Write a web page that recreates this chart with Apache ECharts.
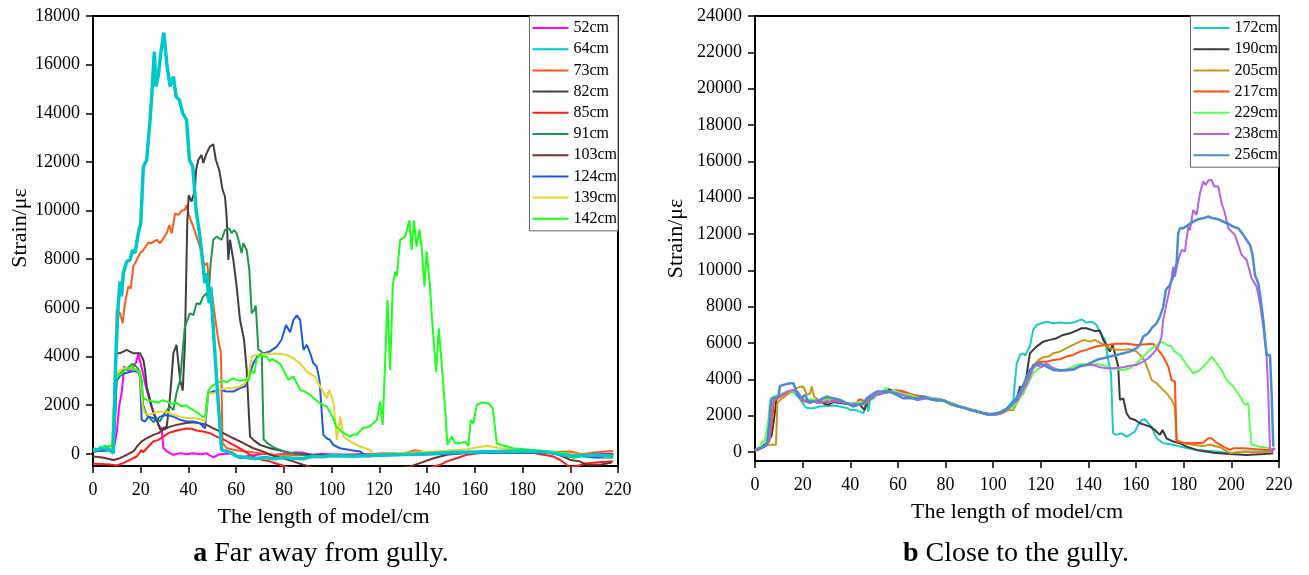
<!DOCTYPE html>
<html>
<head>
<meta charset="utf-8">
<title>Strain along the model length</title>
<script src="https://cdn.jsdelivr.net/npm/echarts@6/dist/echarts.min.js"></script>
<style>
  html, body { margin: 0; padding: 0; background: #fff; }
  #chart { width: 1309px; height: 575px; }
</style>
</head>
<body>
<div id="chart"></div>
<script>
// ---- axis ticks ----
const lengthTicks = [0, 20, 40, 60, 80, 100, 120, 140, 160, 180, 200, 220];
const strainTicksA = [0, 2000, 4000, 6000, 8000, 10000, 12000, 14000, 16000, 18000];
const strainTicksB = [0, 2000, 4000, 6000, 8000, 10000, 12000, 14000, 16000, 18000, 20000, 22000, 24000];

// ---- (a) far away from gully: [length cm, strain με] ----
const namesA = ['52cm', '64cm', '73cm', '82cm', '85cm', '91cm', '103cm', '124cm', '139cm', '142cm'];

const a52 = [[0,100],[2,150],[4,200],[6,250],[8,300],[9,350],[10,900],[11,2000],[12,2500],[12.7,3200],[13,3600],[14,3450],[15,3400],[16,3450],[17,3600],[18,3750],[19,4100],[19.7,4070],[20.5,3500],[21,3300],[21.8,2900],[23,2450],[24.5,1950],[26,1550],[27.4,1200],[28.8,1000],[29.5,250],[31,100],[33.7,-40],[36.5,30],[39,-20],[42,20],[45,-20],[47.6,20],[50.4,-140],[53,-20],[56,0],[59,20],[61.6,-180],[64.4,-100],[68,-50],[72,0],[76,-50],[80,0],[84,50],[88,50],[92,-50],[96,0],[100,-30],[110,-20],[120,0],[130,20],[140,0],[150,30],[160,50],[170,100],[180,80],[190,50],[200,-50],[210,-20],[218,0]];

const a64 = [[0,160],[2,180],[4,230],[6,200],[7,160],[8.5,30],[9.6,4100],[10.6,6200],[11.3,7080],[12,6470],[12.7,7430],[14.1,7900],[15.5,7970],[16.6,8380],[17.6,8250],[19,9070],[20,9480],[21.1,11800],[22.5,12080],[23.9,13730],[24.6,14690],[25.7,16540],[26.4,15100],[27.4,15580],[28.4,16470],[29.7,17320],[30.9,16060],[32.3,15100],[33.7,15510],[34.8,14690],[36.2,14550],[37.6,14000],[39.2,13730],[40.4,12080],[41.8,11810],[43.2,10030],[44.8,8930],[46.2,7700],[46.9,7010],[47.6,7430],[48.7,6190],[49.3,6880],[50.7,4690],[52.5,2080],[53.9,160],[56,100],[58,50],[60,-100],[64,-150],[68,-200],[72,-150],[76,-200],[80,-150],[84,-180],[88,-200],[92,-100],[96,-120],[100,-80],[110,-100],[120,-50],[130,-30],[140,0],[150,50],[160,80],[170,100],[180,120],[190,80],[200,-100],[210,-50],[218,-100]];

const a73 = [[0,230],[3,180],[6,160],[7.8,160],[9.2,1400],[9.9,5920],[11.3,5780],[12.4,5370],[13.4,6190],[14.8,6880],[15.8,6800],[16.9,7700],[18.3,7970],[19.7,8250],[21.1,8380],[23.2,8690],[24.6,8660],[26.7,8800],[28.1,8660],[29.5,8860],[30.9,9070],[32,9410],[33,9070],[34.4,9890],[35.8,9820],[37.2,10000],[38.5,10030],[39.2,10230],[40,9890],[40.9,9620],[42,9340],[43.4,8930],[44.8,8520],[45.9,7970],[46.9,7770],[47.9,7840],[48.7,6880],[49.7,6740],[51.1,5640],[52.5,4690],[53.6,4140],[54.3,440],[56,230],[60,150],[64,100],[68,50],[72,0],[76,-50],[80,-30],[85,-60],[90,-50],[95,-80],[100,-40],[110,-60],[120,0],[130,20],[135,150],[140,50],[150,30],[160,60],[170,80],[180,50],[190,80],[200,100],[205,-20],[210,60],[218,120]];

const a82 = [[0,100],[4,130],[8.5,150],[9.2,3450],[9.9,4140],[11.3,4140],[12.7,4200],[14.1,4270],[15.5,4200],[16.9,4140],[18.3,4140],[19.7,4140],[21.1,3860],[21.8,3450],[22.5,2770],[23.9,2220],[25.3,1670],[26.7,1400],[28.1,1000],[30.9,1120],[32.3,2360],[33.7,4140],[35,4480],[36.5,3040],[37.6,2600],[38.5,4500],[39.5,9500],[40.1,10640],[41.3,10370],[42.7,10850],[43.2,11670],[44.1,12080],[45.5,12290],[46.2,11950],[47.6,12360],[49,12630],[50.4,12730],[51.5,12080],[52.9,11670],[54.3,10850],[55.3,10580],[56,9750],[56.7,7970],[57.4,8800],[58.8,7970],[60.2,6880],[61.6,5510],[63.3,4690],[64.4,3450],[65.8,710],[67.2,575],[70,370],[74.2,230],[78,150],[82,50],[86,0],[90,-30],[95,-50],[100,-80],[110,-60],[120,-50],[130,0],[140,30],[150,50],[160,80],[170,80],[180,60],[190,80],[200,-30],[210,-60],[218,-30]];

const a85 = [[0,-410],[4,-420],[8,-450],[9.9,-480],[12.7,-380],[15.5,-250],[18.3,-110],[20.4,160],[21,60],[23.2,300],[25.3,510],[27.4,575],[29.5,710],[31.6,850],[33.7,920],[36.5,990],[39.2,1040],[41.3,1030],[43.4,960],[46.2,920],[49,850],[51.8,710],[54.6,600],[57.4,440],[60.2,300],[63,140],[65.8,-40],[68.6,-180],[71.4,-250],[74.2,-310],[77,-410],[79.7,-490],[82,-560],[90,-600],[100,-650],[120,-650],[140,-600],[145.5,-450],[148.3,-310],[152.4,-180],[156.6,-40],[162,30],[170.6,50],[177.6,100],[184.6,30],[193,-110],[195.7,-250],[198.5,-450],[200,-550],[203,-500],[206,-400],[212,-350],[218,-300]];

const a91 = [[0,100],[4,150],[8,200],[9.2,1500],[9.9,3180],[11.3,3300],[13,3450],[14.8,3550],[16.5,3700],[18,3600],[19.5,3400],[20.4,3000],[21,2000],[22.5,1600],[24,1450],[25.3,1300],[26.7,1450],[28,1330],[29.5,1600],[31,1800],[32.3,1950],[33.7,1800],[35,2500],[36.5,3040],[38.5,5230],[40.6,5780],[42,5700],[43.4,6190],[44.8,6150],[46.2,6470],[47.6,6600],[48.3,6330],[49.3,7840],[50.4,8800],[51.8,8930],[53.9,8800],[55.3,9200],[57.1,9270],[58.1,9070],[59.1,9200],[60.2,9070],[61.3,8660],[62.3,8250],[63,8660],[64.4,8380],[65.5,7560],[66.5,5780],[67.5,5900],[68.2,6100],[69.3,4270],[70.7,4200],[71.5,600],[73,440],[76,250],[80,100],[85,0],[90,-80],[95,-100],[100,-60],[110,-80],[120,-60],[130,-20],[140,0],[150,30],[160,40],[170,50],[180,60],[190,40],[200,-80],[210,-60],[218,-50]];

const a103 = [[0,-110],[4,-150],[8.5,-250],[11.3,-180],[14.1,-40],[16.9,100],[19,370],[20.4,510],[22.5,640],[25.3,780],[27.4,850],[29.5,990],[32.3,1120],[35,1190],[38.5,1260],[42,1300],[44.8,1260],[47.6,1190],[50.4,1050],[53.2,920],[56,780],[58.8,640],[61.6,510],[64.4,370],[67.2,230],[70,140],[72.8,30],[75.6,-80],[79.7,-180],[83.9,-310],[88,-450],[92,-560],[110,-650],[128,-600],[133,-520],[137,-380],[142.7,-180],[148.3,-40],[156.6,50],[165,100],[173.4,100],[184.6,50],[193,30],[197,-110],[200,-250],[204,-310],[207,-450],[212.5,-450],[217.4,-360]];

const a124 = [[0,100],[4,150],[8,200],[9,800],[9.9,3000],[11.3,3200],[13,3300],[15,3350],[17,3400],[19,3350],[19.7,3180],[20.4,1400],[21.8,1330],[23.2,1530],[25.3,1470],[26.7,1400],[28.1,1530],[30.9,1600],[33.7,1530],[36.5,1400],[39.2,1330],[42,1330],[44.8,1260],[46.9,1050],[48.3,2490],[50.4,2560],[53.2,2630],[56,2560],[58.8,2560],[61.6,2700],[63.7,2770],[64.4,3040],[65.8,3320],[67.2,3730],[69.3,4070],[71.4,4140],[74.2,4210],[77,4410],[79,4690],[80.9,5300],[82.6,5000],[84,5510],[85.4,5690],[86.8,5510],[88.2,4270],[89.6,4480],[91,4140],[92.3,3730],[93.7,3600],[94.9,3040],[95.6,2080],[96.5,780],[97.9,640],[99.3,575],[100.7,370],[103.5,230],[107.7,160],[111.9,100],[114.7,-110],[120,-80],[130,-50],[140,-30],[150,0],[160,30],[170,60],[180,50],[190,80],[200,-50],[210,-150],[218,-150]];

const a139 = [[0,150],[4,200],[8,250],[9.2,2900],[10.6,3380],[12.7,3520],[15.5,3520],[17.6,3500],[19.7,3320],[20.8,1950],[21.8,1670],[23.2,1600],[25.3,1670],[28.1,1740],[30.9,1740],[33.7,1600],[36.5,1530],[39.2,1470],[42,1470],[44.8,1430],[46.9,1330],[48.3,2490],[50.4,2490],[53.2,2630],[56,2700],[58.8,2700],[61.6,2770],[63.7,2900],[65.1,3180],[66.5,4000],[68.6,4070],[72.8,4110],[77,4110],[81.1,4070],[83.9,3930],[86.7,3730],[89.6,3380],[93,3180],[95.9,2630],[98,2290],[99.1,2630],[100.8,2080],[102.2,575],[103.6,1530],[105,710],[107.7,510],[111.9,300],[116.1,160],[117.5,-40],[128.7,30],[142.7,100],[156.6,190],[165,330],[170.6,230],[184.6,100],[193,30],[201.3,-20],[212.5,-80],[217.4,-110]];

const a142 = [[0,100],[2,150],[3,300],[4,200],[5,350],[6,300],[8,350],[9.2,3000],[10.5,3200],[12,3300],[13.5,3450],[15,3500],[16.2,3600],[17.5,3450],[19.7,3400],[20.5,2800],[21,2300],[23,2200],[25,2150],[27,2100],[29,2200],[31,2150],[33,2050],[35,2100],[37,1950],[39,2000],[41,1850],[43,1750],[45,1600],[46,1500],[47,1550],[48.3,2600],[50,2800],[52,2900],[54,3000],[56,2950],[58.8,3100],[60,3050],[62,3000],[64,3050],[65,3000],[66.5,3400],[67.5,3300],[68.6,3900],[70,4070],[71.4,4000],[72.8,4000],[74,3800],[75,3900],[78.4,3700],[80,3400],[81.9,3040],[84,3180],[86.8,2630],[89,2550],[91,2420],[95,2080],[98,1950],[100,1600],[102,1120],[105,850],[107.7,710],[109,800],[110.5,780],[113,1050],[116,1120],[119,1400],[120.3,2150],[121.4,1190],[123.4,6330],[124.5,3450],[125.6,6880],[126.6,7490],[127.3,7290],[128.7,8800],[130.8,8930],[132.6,9590],[133.5,8380],[134.5,9590],[135.6,8520],[136.8,9230],[137.7,8520],[138.9,6880],[139.8,8320],[141.2,6880],[142.2,5370],[143.8,3380],[144.9,5160],[146.2,3590],[147.6,1800],[148.5,370],[150.3,710],[151.7,440],[153.8,440],[156,500],[157.3,330],[158.3,1400],[159.4,1250],[160.8,2010],[162.9,2110],[165.7,2080],[167.5,1880],[169.2,440],[170.6,370],[176.2,230],[184.6,160],[191.5,100],[198.5,30],[201.3,-180],[205.5,-80],[212.5,-80],[217.4,-180]];

// ---- (b) close to the gully ----
const namesB = ['172cm', '190cm', '205cm', '217cm', '229cm', '238cm', '256cm'];

const b172 = [[0,100],[2,200],[4,350],[5,500],[6,1500],[7,2900],[8,3000],[10,3100],[12,3250],[14,3300],[16,3300],[18,3050],[19.6,2770],[21,2500],[22.4,2400],[24.5,2400],[27.3,2500],[30,2530],[32.9,2550],[35.7,2500],[38.5,2420],[40,2310],[42,2310],[44.1,2220],[45.5,2130],[46.2,2500],[46.9,2860],[47.6,2220],[48.3,2860],[49.7,2950],[51.1,3150],[54,3250],[57,3300],[60,3350],[63,3200],[66,3050],[69,3000],[72,3000],[75,2950],[78,2900],[81,2750],[84,2600],[87,2450],[90,2350],[93,2250],[96,2150],[99,2100],[100.1,2130],[102,2150],[105.7,2400],[108.5,2860],[109.2,3960],[109.9,4880],[111.3,5340],[112.7,5430],[113.4,5300],[115.4,5800],[116.8,6720],[118.2,6990],[120.3,7080],[122.4,7170],[125.2,7080],[128,7120],[130.8,7080],[133.6,7120],[137.1,7300],[139.2,7120],[141.3,7170],[143.4,6990],[145.1,6530],[146.9,6200],[148,5300],[149.5,4300],[150.3,1030],[151.8,940],[153.9,1030],[156,840],[157.4,940],[159.5,1120],[160.9,1490],[162.3,1760],[163.7,1800],[165.1,1580],[166.5,1390],[168.6,750],[171.4,480],[175.6,390],[179.8,260],[185.4,110],[193.8,20],[199.4,-70],[206.4,20],[213.4,20],[217.6,110]];

const b190 = [[0,100],[2,200],[4,400],[5,500],[6,700],[7,900],[8,1800],[9,2900],[10,3000],[12,3200],[14,3300],[16,3400],[17,3350],[18,3100],[19.5,3000],[21,2800],[23,2700],[25,2800],[27,2850],[29,2650],[31,2600],[33,2750],[35,2700],[38,2650],[41,2600],[44,2600],[46,2300],[47,2700],[48,2900],[50,3100],[53,3200],[56,3450],[59,3300],[62,3150],[65,3050],[68,3000],[71,3000],[74,2950],[77,2900],[80,2800],[83,2650],[86,2500],[89,2400],[92,2250],[95,2150],[98,2050],[101,2080],[104,2200],[106,2400],[108.5,2680],[110,3000],[111.3,3600],[112.7,3500],[114,4200],[115.4,5430],[116.8,5620],[118.2,5800],[121,6070],[123.8,6170],[126.6,6260],[129.4,6440],[132.2,6530],[135,6680],[137.1,6810],[139.2,6810],[141.3,6720],[142.7,6650],[144.8,6680],[146.2,6170],[147.6,5890],[149,5520],[150.1,5890],[151.1,5430],[152.5,4700],[153.2,2860],[154.6,2950],[156,2130],[157.4,1850],[159.5,1760],[161.6,1580],[163.7,1490],[165.8,1390],[167.9,1210],[170,940],[171.1,1210],[172.8,750],[175.6,570],[178.4,480],[181.2,290],[185.4,110],[192.4,-40],[199.4,-110],[206.4,-170],[213.4,-110],[217.6,-70]];

const b205 = [[0,50],[2,150],[4,300],[6,400],[7.7,390],[8.8,400],[9.4,2680],[10.5,2860],[12,3000],[13.3,3140],[15,3300],[16.1,3410],[18.2,3560],[20.3,3600],[21.7,3140],[23.1,3200],[23.8,3600],[24.8,3050],[26.6,2860],[28,2800],[30,2950],[32,2900],[34,2800],[36,2750],[38,2700],[40,2650],[42,2700],[44,2650],[46,2600],[48,2900],[50,3100],[53,3200],[56,3300],[59,3350],[62,3300],[65,3100],[68,3050],[71,2950],[74,2950],[77,2900],[80,2800],[83,2650],[86,2500],[89,2400],[92,2250],[95,2150],[98,2050],[101,2050],[104,2150],[106,2300],[108.5,2310],[111.3,3050],[114.1,3960],[115.4,4150],[116.8,4700],[118.9,5060],[121,5210],[123.1,5250],[125.2,5430],[128,5520],[130.8,5710],[133.6,5890],[136.4,6070],[138.5,6170],[140.6,6070],[142.7,6170],[144.8,6020],[146.9,5890],[149,5710],[151.8,5620],[154.6,5620],[157.4,5650],[160.2,5520],[162.3,5250],[163.7,4970],[165.1,4510],[166.5,3960],[168.6,3780],[170.7,3500],[172.8,3230],[174.9,2860],[176.3,2500],[177,660],[179.8,480],[184,390],[188.2,330],[191,390],[195.2,260],[199.4,-70],[205,20],[210.6,-30],[217.6,20]];

const b217 = [[0,80],[2,150],[4,300],[6,600],[7,1500],[8,2800],[9,2900],[10,3000],[12,3150],[14,3300],[16,3350],[18,3300],[19,3000],[20,2800],[22,2750],[24,2900],[26,2750],[28,2800],[30,2700],[32,2800],[34,2850],[36,2750],[38,2700],[40,2650],[42,2600],[44,2900],[46,2800],[48,3000],[50,3150],[53,3250],[56,3300],[59,3400],[62,3350],[65,3200],[68,3100],[71,3050],[74,2950],[77,2900],[80,2800],[83,2650],[86,2500],[89,2400],[92,2300],[95,2150],[98,2100],[101,2050],[104,2150],[106,2300],[108.5,2500],[110,2800],[112.7,3230],[114,3700],[115.4,4330],[116.8,4790],[119.6,4970],[122.4,4970],[125.2,5060],[128,5100],[130.8,5250],[133.6,5340],[136.4,5520],[139.2,5620],[142,5760],[144.8,5840],[147.6,5890],[151.8,5950],[156,5950],[160.2,5890],[164.4,5930],[167.2,5950],[169.3,5620],[171.4,5250],[173.5,4700],[174.9,3960],[176.3,3870],[177,570],[179.8,510],[184,480],[188.2,510],[190.3,750],[191.7,750],[193.8,510],[196.6,290],[199.4,110],[200.8,200],[205,200],[210.6,150],[216.2,110],[218.3,200]];

const b229 = [[0,100],[2,250],[3,600],[4,500],[4.5,900],[5.6,1760],[6.3,2860],[7.7,3050],[10.5,3140],[13.3,3320],[16.1,3320],[18.2,3150],[20,2900],[22,2850],[24,2900],[26,2800],[28,2900],[30,2800],[32,2950],[34,2900],[36,2800],[38,2700],[40,2650],[42,2700],[44,2750],[46,2700],[48,3000],[50,3100],[53,3200],[55,3550],[56,3300],[59,3350],[62,3200],[65,3150],[68,3000],[71,3050],[74,3000],[77,2900],[80,2800],[83,2650],[86,2500],[89,2400],[92,2300],[95,2150],[98,2050],[101,2080],[104,2200],[106,2350],[108.5,2500],[111,2900],[112.7,3300],[114.8,3780],[115.4,3870],[116.8,4330],[118.2,4510],[119.6,4610],[121,4790],[123.8,4700],[126.6,4550],[129.4,4510],[132.2,4610],[135,4790],[137.8,4840],[140.6,4790],[143.4,4840],[146.2,4790],[149,4610],[151.8,4550],[154.6,4510],[157.4,4610],[160.2,4880],[163,5250],[165.8,5620],[168.6,5890],[170.7,6070],[172.8,5890],[174.9,5800],[176.3,5520],[178.4,5340],[181.2,4790],[184,4330],[186.8,4510],[189.6,4880],[191.7,5250],[193.8,4880],[195.9,4510],[198,3960],[200.8,3600],[203.6,3050],[205.7,2590],[207.1,2680],[207.8,1400],[208.5,390],[212,290],[216.2,200],[216.9,110]];

const b238 = [[0,100],[2,200],[4,350],[5,450],[6,800],[7,2500],[8,2900],[10,3050],[12,3200],[14,3350],[16,3400],[18,3300],[19,3100],[20,2900],[22,2750],[24,2800],[26,2700],[28,2700],[30,2800],[32,2750],[34,2800],[36,2750],[38,2700],[40,2600],[42,2650],[44,2600],[46,2700],[48,2950],[50,3100],[53,3200],[56,3300],[59,3250],[62,3150],[65,3000],[68,2850],[70,2900],[73,2950],[76,2900],[79,2850],[82,2650],[85,2500],[88,2400],[91,2300],[94,2200],[97,2100],[100,2050],[103,2100],[106,2350],[108.5,2700],[110,2800],[112,3300],[114,3700],[115.4,4150],[116.8,4610],[118.2,4790],[120.3,4660],[122.4,4880],[125.2,4610],[128,4480],[130.8,4480],[133.6,4510],[136.4,4700],[139.2,4790],[142,4790],[144.8,4660],[147.6,4610],[150.4,4610],[154.6,4660],[157.4,4740],[160.2,4790],[163,4970],[165.1,5160],[167.2,5430],[169.3,5800],[170.7,6350],[171.4,7270],[172.8,8180],[174.2,9010],[175.6,10200],[176.3,9650],[177.7,10570],[179.1,11120],[180.5,11030],[181.9,12400],[182.6,12220],[184,13320],[185.4,13050],[186.8,14240],[188.2,14880],[189.2,14700],[190.3,14940],[191.7,14980],[192.8,14610],[194.5,14610],[195.9,13690],[197.3,13140],[198.7,12310],[200.1,12130],[201.5,11950],[202.9,11400],[204.3,10850],[206.4,10570],[208.5,9560],[210.6,9100],[212,8180],[213.4,6900],[214.8,5250],[215.5,3230],[216.2,200],[216.9,20],[218.3,200]];

const b256 = [[0,150],[2,200],[4,300],[5,400],[6,1500],[6.5,2500],[7,2950],[9.8,3050],[10.5,3630],[11.9,3690],[14.7,3780],[16.1,3780],[17.2,3410],[18.2,3050],[19.6,3000],[21,3140],[22.4,2770],[24.5,2770],[27.3,2860],[30,3050],[32.9,2950],[35.7,2860],[38.5,2680],[41.3,2500],[43.4,2590],[45.5,2680],[46.9,2950],[49,3140],[51.1,3320],[53.9,3320],[56.7,3320],[59.5,3140],[62.3,2950],[65.1,2950],[67.9,2950],[70.7,3050],[73.5,2900],[76.3,2830],[79.1,2830],[81.9,2640],[84.7,2530],[87.5,2440],[90.3,2310],[93.1,2250],[95.9,2130],[98,2040],[100.1,2080],[102.9,2170],[104.9,2310],[107,2500],[109.2,2860],[111.3,3300],[113,3800],[115.4,4510],[116.8,4700],[118.2,4880],[120.3,4840],[122.4,4700],[125.2,4510],[128,4480],[130.8,4510],[133.6,4550],[136.4,4730],[139.2,4790],[142,4970],[144.1,5100],[146.2,5160],[149,5250],[151.8,5340],[154.6,5430],[157.4,5520],[160.2,5710],[161.6,5890],[163,6350],[165.1,6530],[166.5,6810],[168.6,7080],[170,7450],[171.4,8000],[172.5,8920],[174.2,9190],[175.6,9650],[177,10390],[177.7,12040],[178.4,12310],[179.8,12310],[181.9,12500],[184,12680],[186.1,12810],[188.2,12860],[190.3,12960],[192.4,12860],[194.5,12810],[196.6,12680],[198.7,12550],[200.8,12400],[202.9,12310],[205,11950],[206.4,11670],[207.8,11400],[208.9,10850],[209.9,9740],[211.3,9290],[212,8730],[213.4,7270],[214.8,5340],[216.2,5340],[216.9,3230],[217.6,290]];

const dataA = [a52, a64, a73, a82, a85, a91, a103, a124, a139, a142];
const dataB = [b172, b190, b205, b217, b229, b238, b256];

// ---- line styles ----
const colorsA = ['#ff00ff', '#00c8c8', '#ff5a1e', '#404040', '#ff1e1e', '#1e9650', '#6e3232', '#1e5adc', '#e6d232', '#1eff1e'];
const widthsA = [2, 3.5, 2, 2, 2, 2, 2, 2, 2, 2];
const colorsB = ['#1ec8c8', '#3a3a3a', '#c8961e', '#ff5014', '#5aff5a', '#b464e6', '#4a8cd2'];
const widthsB = [2, 2, 2, 2, 2, 2, 2.5];

const FONT = "'Liberation Serif', 'Times New Roman', serif";
const plain = v => String(v);

function xAxisFor(gridIndex, nameShift) {
  return {
    type: 'value', gridIndex, min: lengthTicks[0], max: lengthTicks[lengthTicks.length - 1], interval: 20,
    name: 'The length of model/cm', nameLocation: 'middle', nameGap: 40,
    nameTextStyle: { fontFamily: FONT, fontSize: 22, color: '#000', padding: nameShift },
    axisLine: { onZero: false, lineStyle: { color: '#000', width: 2 } },
    axisTick: { length: 7, customValues: lengthTicks, lineStyle: { color: '#000', width: 1.5 } },
    axisLabel: { fontFamily: FONT, fontSize: 18, color: '#000', margin: 15, customValues: lengthTicks, formatter: plain },
    splitLine: { show: false }
  };
}

function yAxisFor(gridIndex, ticks, gap, nameShift) {
  return {
    type: 'value', gridIndex, min: -500, max: ticks[ticks.length - 1],
    name: 'Strain/με', nameLocation: 'middle', nameGap: gap,
    nameTextStyle: { fontFamily: FONT, fontSize: 22, color: '#000', padding: nameShift },
    axisLine: { show: true, lineStyle: { color: '#000', width: 2 } },
    axisTick: { show: true, length: 7, customValues: ticks, lineStyle: { color: '#000', width: 1.5 } },
    axisLabel: { fontFamily: FONT, fontSize: 18, color: '#000', margin: 13, customValues: ticks, formatter: plain },
    splitLine: { show: false }
  };
}

function legendFor(names, right) {
  return {
    data: names, orient: 'vertical', right, top: 16,
    itemWidth: 36, itemHeight: 2, itemGap: 3.2,
    padding: [3, 1, 3, 2],
    backgroundColor: '#fff', borderColor: '#666', borderWidth: 1, borderRadius: 0,
    textStyle: { fontFamily: FONT, fontSize: 16, color: '#000', lineHeight: 18 },
    selectedMode: false
  };
}

const series = [];
namesA.forEach((n, i) => series.push({
  name: n, type: 'line', xAxisIndex: 0, yAxisIndex: 0, data: dataA[i],
  symbol: 'none', color: colorsA[i], lineStyle: { width: widthsA[i], color: colorsA[i] },
  clip: true, z: i === 1 ? 3 : 2
}));
namesB.forEach((n, i) => series.push({
  name: n, type: 'line', xAxisIndex: 1, yAxisIndex: 1, data: dataB[i],
  symbol: 'none', color: colorsB[i], lineStyle: { width: widthsB[i], color: colorsB[i] },
  clip: true, z: 2
}));

const chart = echarts.init(document.getElementById('chart'), null, { renderer: 'canvas' });
chart.setOption({
  animation: false,
  backgroundColor: '#fff',
  grid: [
    { left: 93, top: 16, width: 525, height: 450, show: true, borderColor: '#000', borderWidth: 2 },
    { left: 755, top: 16, width: 524, height: 445, show: true, borderColor: '#000', borderWidth: 2 }
  ],
  xAxis: [xAxisFor(0, [0, 64, 0, 0]), xAxisFor(1, 0)],
  yAxis: [yAxisFor(0, strainTicksA, 61, [0, 0, 0, 26]), yAxisFor(1, strainTicksB, 68, 0)],
  legend: [legendFor(namesA, 1309 - 618), legendFor(namesB, 1309 - 1279)],
  title: [
    { text: '{b|a} Far away from gully.', left: 316, top: 535, textAlign: 'center',
      textStyle: { fontFamily: FONT, fontSize: 28, fontWeight: 'normal', color: '#000',
        rich: { b: { fontFamily: FONT, fontSize: 28, fontWeight: 'bold', color: '#000' } } } },
    { text: '{b|b} Close to the gully.', left: 1011, top: 535, textAlign: 'center',
      textStyle: { fontFamily: FONT, fontSize: 28, fontWeight: 'normal', color: '#000',
        rich: { b: { fontFamily: FONT, fontSize: 28, fontWeight: 'bold', color: '#000' } } } }
  ],
  series
});
</script>
</body>
</html>
